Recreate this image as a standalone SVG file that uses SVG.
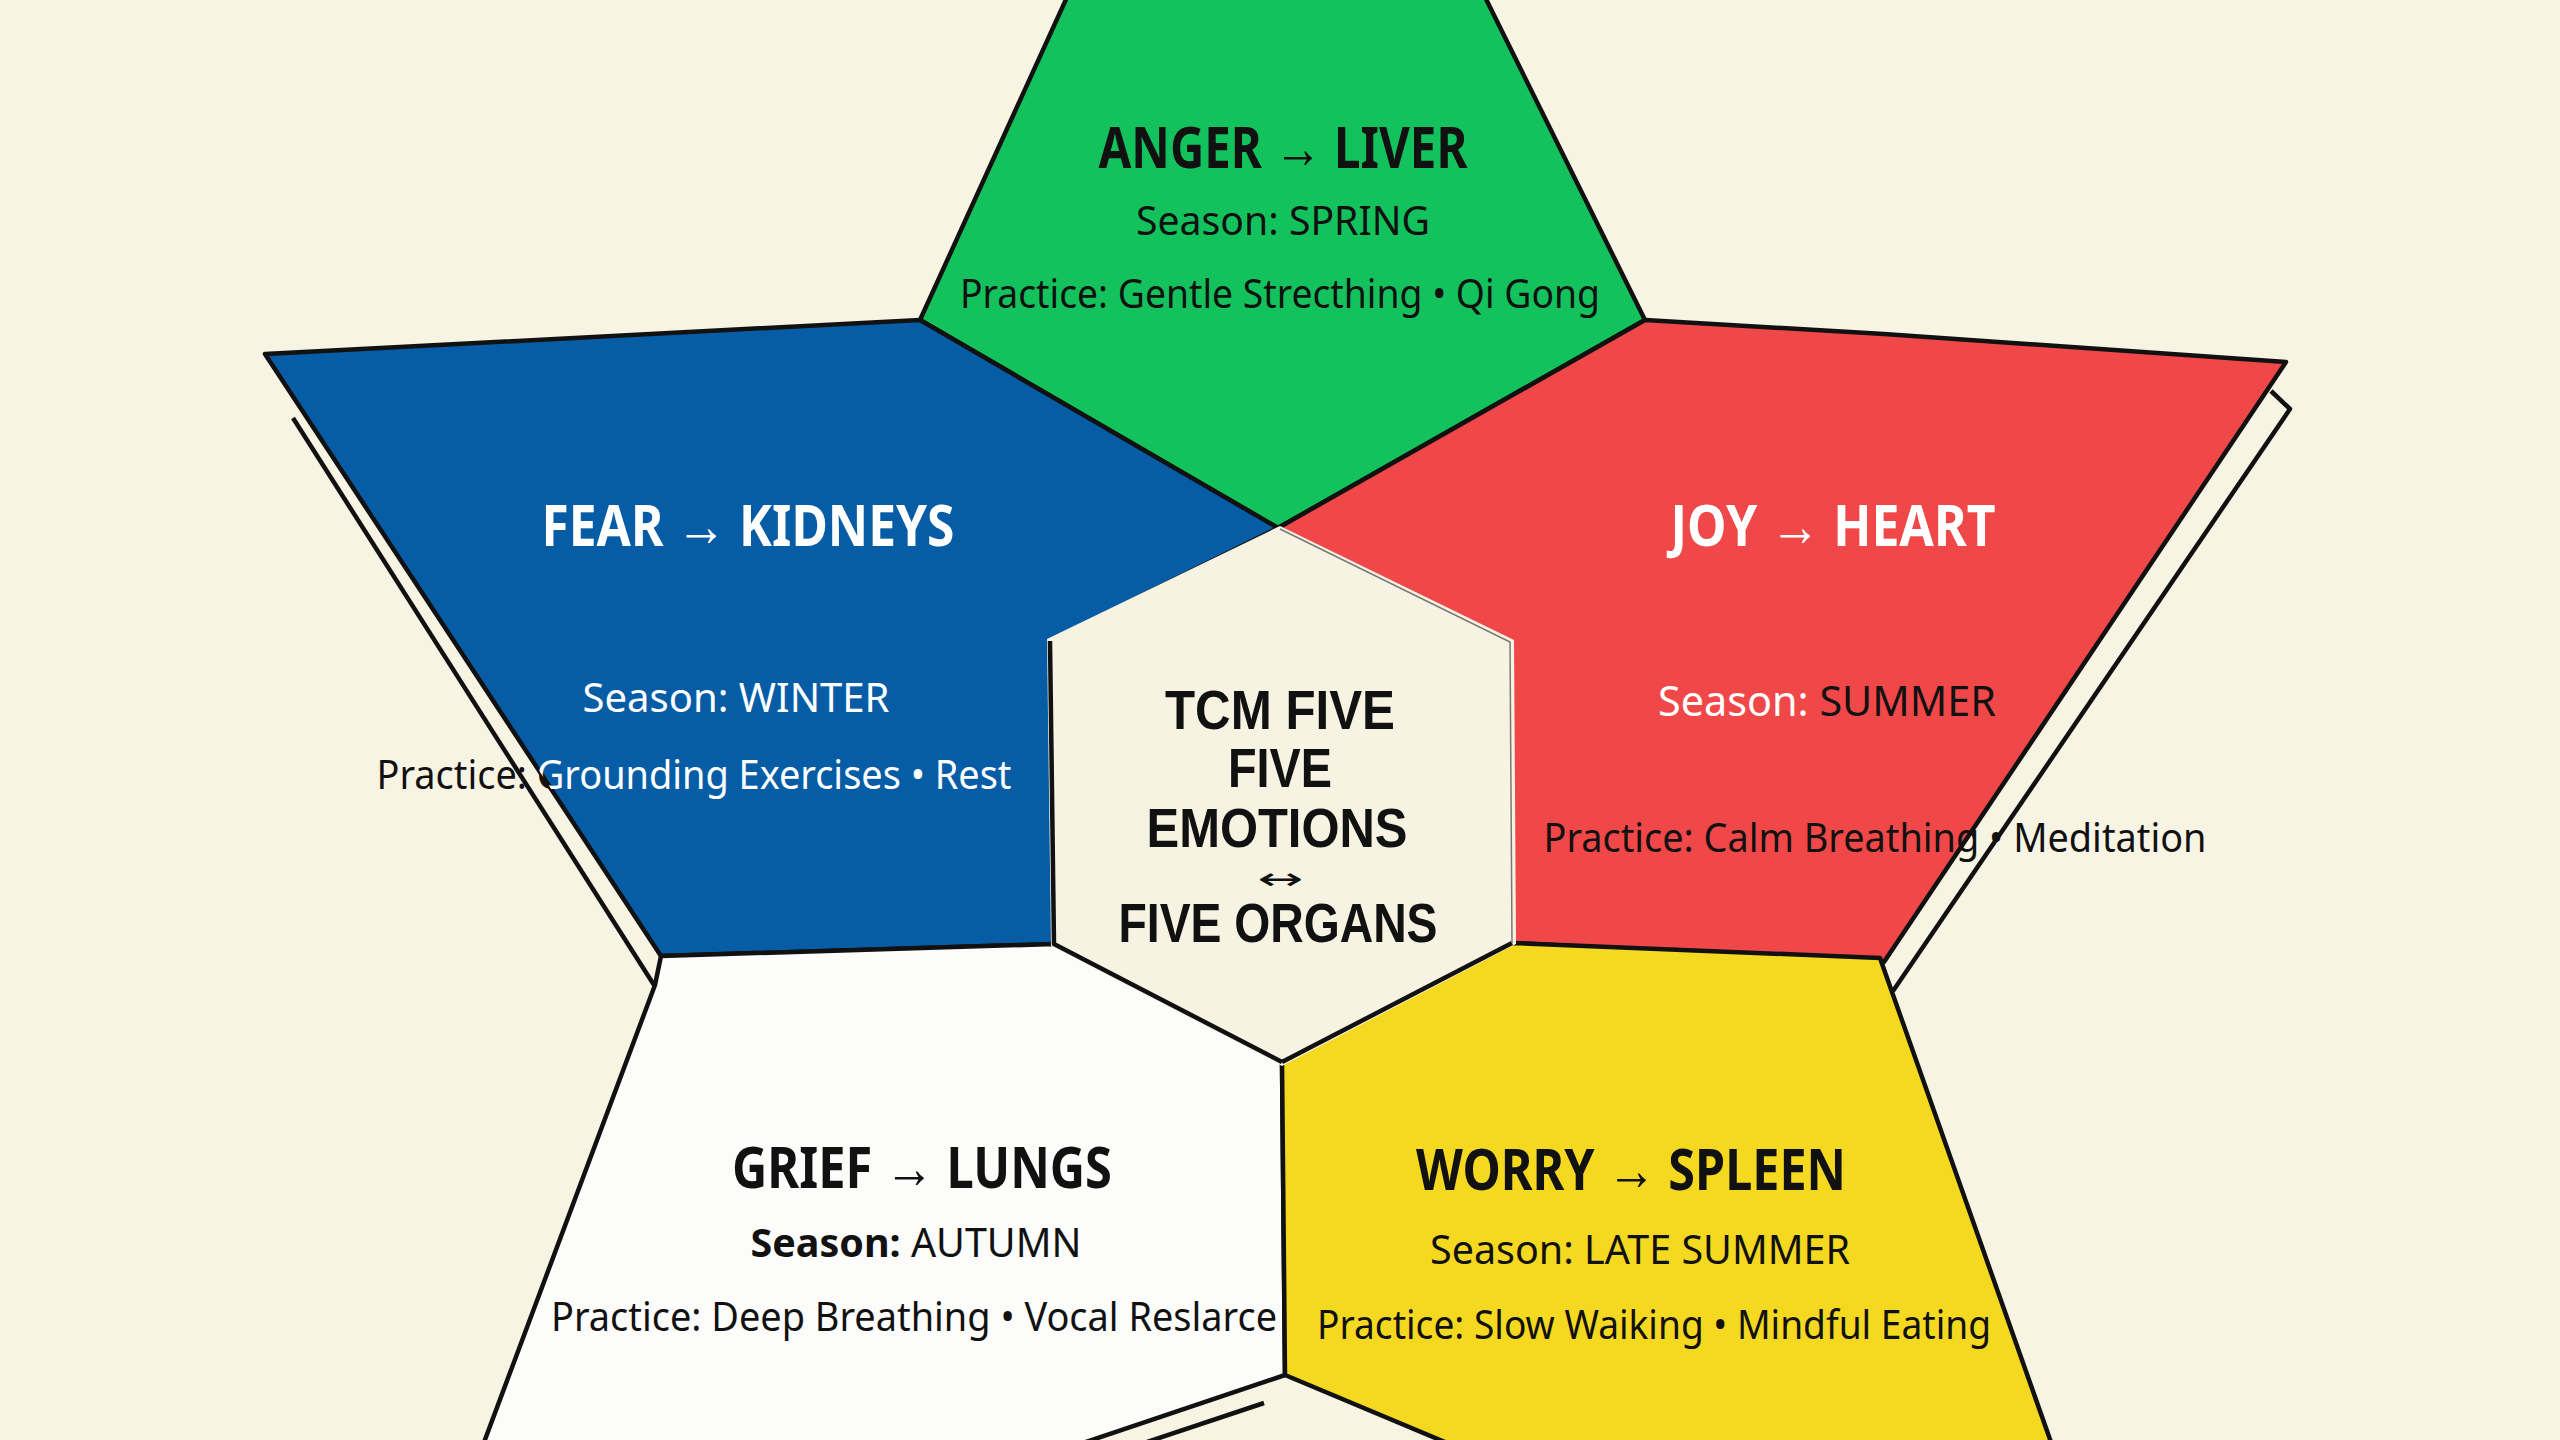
<svg xmlns="http://www.w3.org/2000/svg" width="2560" height="1440" viewBox="0 0 2560 1440">
<defs>
<style>
.edge{stroke:#111;stroke-width:4.5;stroke-linejoin:round;fill:none}
.petal{stroke:#111;stroke-width:4.5;stroke-linejoin:round}
.t{font-family:"Noto Sans","Liberation Sans",sans-serif;text-anchor:middle}
.c{font-family:"Liberation Sans","Noto Sans",sans-serif;text-anchor:middle;font-weight:700;font-size:56px}
.h{font-weight:700;font-size:58px}
.s{font-size:40px}
.k{fill:#111}
.w{fill:#ffffff}
</style>
<clipPath id="clipBlue"><polygon points="265,354 920,320 1278,528 1050,641 1054,944 661,956"/></clipPath>
<clipPath id="clipOutBlue"><path clip-rule="evenodd" d="M0,0H2560V1440H0Z M265,354 L920,320 L1278,528 L1050,641 L1054,944 L661,956 Z"/></clipPath>
</defs>
<rect width="2560" height="1440" fill="#F8F4E3"/>

<g id="folds">
<polyline class="edge" stroke-width="3.5" points="293,418 654,985"/>
<polygon points="2286,362 2271,391 2290,409 1893,991 1884,962" fill="#F8F4E3" stroke="none"/>
<polyline class="edge" stroke-width="3.5" points="2271,391 2290,409 1893,991"/>
</g>

<g id="node-anger">
<polygon class="petal" fill="#13C25C" points="1068,-5 1484,-5 1645,320 1278,528 920,320"/>
<text class="t h k" x="1283" y="168" font-size="60" textLength="369" lengthAdjust="spacingAndGlyphs">ANGER → LIVER</text>
<text class="t s k" x="1283" y="235" textLength="294" lengthAdjust="spacingAndGlyphs">Season: SPRING</text>
<text class="t s k" x="1280" y="308" textLength="640" lengthAdjust="spacingAndGlyphs">Practice: Gentle Strecthing • Qi Gong</text>
</g>

<g id="node-fear">
<polygon class="petal" fill="#065DA6" points="265,354 920,320 1278,528 1050,641 1054,944 661,956"/>
<text class="t h w" x="748" y="546" textLength="413" lengthAdjust="spacingAndGlyphs">FEAR → KIDNEYS</text>
<text class="t s w" x="736" y="712" textLength="307" lengthAdjust="spacingAndGlyphs">Season: WINTER</text>
<text class="t s k" x="694" y="789" textLength="635" lengthAdjust="spacingAndGlyphs" clip-path="url(#clipOutBlue)">Practice: Grounding Exercises • Rest</text>
<text class="t s w" x="694" y="789" textLength="635" lengthAdjust="spacingAndGlyphs" clip-path="url(#clipBlue)">Practice: Grounding Exercises • Rest</text>
</g>

<g id="node-joy">
<polygon class="petal" fill="#F04848" points="1645,320 1884,334 2286,362 1884,962 1512,943 1510,642 1278,528"/>
<text class="t h w" x="1833" y="546" textLength="325" lengthAdjust="spacingAndGlyphs">JOY → HEART</text>
<text class="t k" x="1827" y="716" font-size="42" textLength="338" lengthAdjust="spacingAndGlyphs"><tspan fill="#ffffff">Season: </tspan>SUMMER</text>
<text class="t s k" x="1875" y="852" textLength="663" lengthAdjust="spacingAndGlyphs">Practice: Calm Breathing • Meditation</text>
</g>

<g id="node-grief">
<polygon class="petal" fill="#FCFCFA" points="661,956 1054,944 1282,1062 1285,1375 1077,1445 483,1445 655,985"/>
<text class="t h k" x="922" y="1188" textLength="380" lengthAdjust="spacingAndGlyphs">GRIEF → LUNGS</text>
<text class="t s k" x="916" y="1257" textLength="331" lengthAdjust="spacingAndGlyphs"><tspan font-weight="700">Season:</tspan> AUTUMN</text>
<text class="t s k" x="914" y="1331" textLength="726" lengthAdjust="spacingAndGlyphs">Practice: Deep Breathing • Vocal Reslarce</text>
</g>

<g id="node-worry">
<polygon class="petal" fill="#F5D820" points="1512,943 1880,958 2052,1445 1452,1445 1285,1375 1282,1062"/>
<text class="t h k" x="1631" y="1190" textLength="430" lengthAdjust="spacingAndGlyphs">WORRY → SPLEEN</text>
<text class="t s k" x="1640" y="1264" textLength="420" lengthAdjust="spacingAndGlyphs">Season: LATE SUMMER</text>
<text class="t s k" x="1654" y="1339" textLength="674" lengthAdjust="spacingAndGlyphs">Practice: Slow Waiking • Mindful Eating</text>
</g>

<g id="bottom-wedge">
<polyline class="edge" stroke-width="3.5" points="1264,1403 1138,1445"/>
</g>

<g id="node-center">
<polygon fill="#F7F3E2" points="1280,526 1514,640 1516,944 1282,1066 1051,946 1047,639"/>
<polyline class="edge" stroke-width="5" points="1050,641 1054,944 1282,1062"/>
<polyline class="edge" stroke-width="3" points="1282,1062 1512,943"/>
<polyline fill="none" stroke="#777" stroke-width="1.5" points="1280,529 1510,642 1512,943"/>
<text class="c k" x="1280" y="729" textLength="230" lengthAdjust="spacingAndGlyphs">TCM FIVE</text>
<text class="c k" x="1280" y="787" textLength="104" lengthAdjust="spacingAndGlyphs">FIVE</text>
<text class="c k" x="1277" y="847" textLength="261" lengthAdjust="spacingAndGlyphs">EMOTIONS</text>
<text fill="#111" font-family="DejaVu Sans, sans-serif" text-anchor="middle" font-size="30" x="1280" y="889" textLength="46" lengthAdjust="spacingAndGlyphs">↔</text>
<text class="c k" x="1278" y="942" textLength="319" lengthAdjust="spacingAndGlyphs">FIVE ORGANS</text>
</g>
</svg>
